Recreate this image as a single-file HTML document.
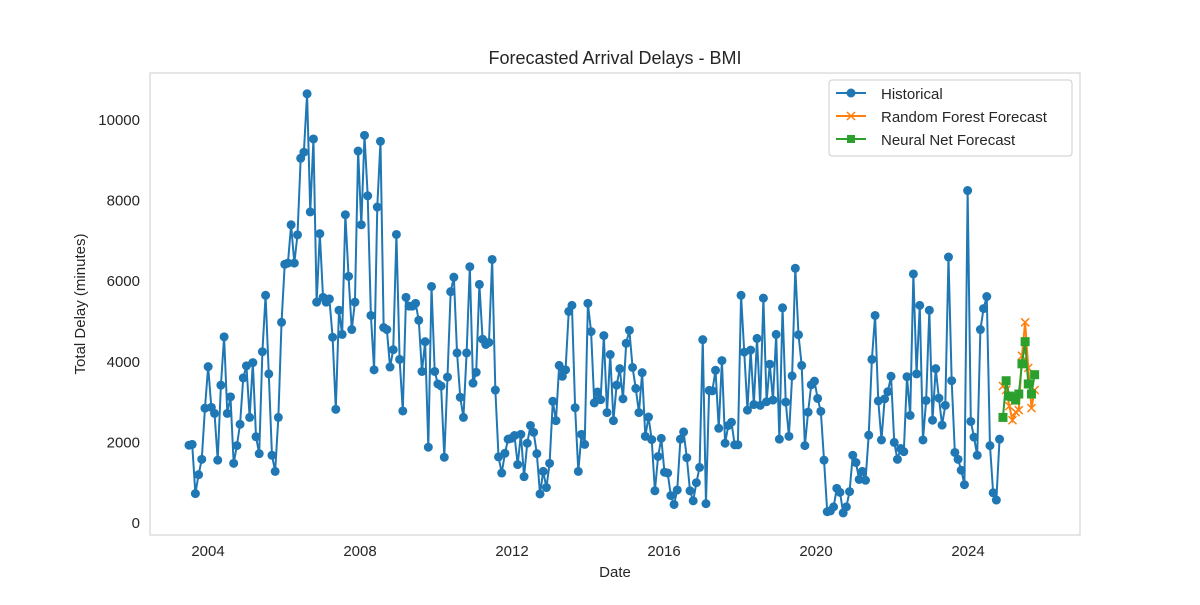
<!DOCTYPE html>
<html><head><meta charset="utf-8"><style>
body{margin:0;background:#fff;font-family:"Liberation Sans","DejaVu Sans",sans-serif;}
svg text{font-family:"Liberation Sans","DejaVu Sans",sans-serif;fill:#262626;}
</style></head><body>
<svg id="chart" width="1200" height="600">
<rect x="150" y="73" width="930" height="462" fill="#fff" stroke="#ccc"/>
<text x="615" y="64" font-size="18" text-anchor="middle">Forecasted Arrival Delays - BMI</text>
<text x="615" y="577" font-size="15" text-anchor="middle">Date</text>
<text transform="translate(85,304) rotate(-90)" font-size="15" text-anchor="middle">Total Delay (minutes)</text>
<g id="ticks"></g>
<g id="series"></g>
<g>
<rect x="829" y="80" width="243" height="76" rx="3" fill="#fff" stroke="#ccc"/>
<line x1="836" y1="93" x2="866" y2="93" stroke="#1f77b4" stroke-width="2"/><circle cx="851" cy="93" r="4.5" fill="#1f77b4"/>
<text x="881" y="99" font-size="15">Historical</text>
<line x1="836" y1="116" x2="866" y2="116" stroke="#ff7f0e" stroke-width="2"/><path d="M847,112 l8,8 M855,112 l-8,8" stroke="#ff7f0e" stroke-width="1.5"/>
<text x="881" y="122" font-size="15">Random Forest Forecast</text>
<line x1="836" y1="139" x2="866" y2="139" stroke="#2ca02c" stroke-width="2"/><rect x="847" y="135" width="8" height="8" fill="#2ca02c"/>
<text x="881" y="145" font-size="15">Neural Net Forecast</text>
</g>
</svg>
<script>
const historical = [1930,1950,730,1200,1580,2850,3880,2870,2720,1560,3420,4620,2720,3130,1480,1920,2450,3600,3900,2620,3980,2140,1720,4250,5650,3700,1680,1280,2620,4980,6420,6450,7400,6450,7150,9050,9200,10650,7720,9530,5480,7180,5600,5480,5560,4610,2820,5280,4680,7650,6120,4800,5480,9230,7400,9620,8120,5150,3800,7840,9470,4850,4800,3870,4300,7160,4060,2780,5600,5380,5380,5450,5030,3760,4500,1880,5870,3760,3450,3400,1630,3620,5740,6100,4220,3120,2620,4220,6360,3470,3740,5920,4560,4430,4480,6540,3300,1640,1240,1730,2080,2100,2170,1450,2200,1150,1980,2420,2250,1720,720,1280,880,1480,3020,2540,3910,3640,3800,5250,5400,2860,1280,2200,1950,5450,4750,2980,3250,3060,4650,2740,4180,2540,3420,3830,3080,4460,4780,3860,3340,2740,3730,2150,2630,2070,800,1650,2100,1260,1240,680,460,820,2080,2260,1620,800,550,1000,1380,4550,480,3290,3280,3790,2350,4030,1980,2420,2500,1940,1940,5650,4240,2800,4290,2940,4580,2920,5580,3010,3940,3050,4680,2080,5340,3000,2150,3650,6320,4670,3910,1920,2750,3430,3520,3090,2770,1560,280,300,400,860,760,250,400,780,1680,1500,1080,1280,1060,2180,4060,5150,3030,2060,3080,3260,3640,2000,1580,1850,1770,3630,2670,6180,3700,5400,2060,3040,5280,2550,3830,3100,2430,2920,6600,3530,1750,1580,1310,950,8250,2520,2130,1680,4800,5320,5620,1920,750,570,2080];
const histStart = 2003.5, histEnd = 2024.83;
const rfForecast = [3400,3300,2900,2550,2750,2800,4150,4980,3850,2850,3300];
const nnForecast = [2620,3530,3150,3130,3050,3200,3950,4500,3450,3200,3680];
const fcStart = 2024.92;
const xTicks = [2004,2008,2012,2016,2020,2024];
const yTicks = [0,2000,4000,6000,8000,10000];

const X = d => 208 + (d-2004)*38;
const Y = v => 523 - v*0.0403;
const NS='http://www.w3.org/2000/svg';
const tk=document.getElementById('ticks'), sg=document.getElementById('series');
function mk(tag,attrs,parent){const e=document.createElementNS(NS,tag);for(const k in attrs)e.setAttribute(k,attrs[k]);parent.appendChild(e);return e;}
xTicks.forEach(t=>{const e=mk('text',{x:X(t),y:556,'font-size':15,'text-anchor':'middle'},tk);e.textContent=t;

});
yTicks.forEach(t=>{const e=mk('text',{x:140,y:Y(t)+5,'font-size':15,'text-anchor':'end'},tk);e.textContent=t;

});
const step=(histEnd-histStart)/(historical.length-1);
const hp=historical.map((v,i)=>[X(histStart+i*step),Y(v)]);
const hl=mk('polyline',{points:hp.map(p=>p.join(',')).join(' '),fill:'none',stroke:'#1f77b4','stroke-width':2},sg);


hp.forEach(p=>{const c=mk('circle',{cx:p[0],cy:p[1],r:4.5,fill:'#1f77b4'},sg);

});
const rp=rfForecast.map((v,i)=>[X(fcStart+i/12),Y(v)]);
const rl=mk('polyline',{points:rp.map(p=>p.join(',')).join(' '),fill:'none',stroke:'#ff7f0e','stroke-width':2},sg);


rp.forEach(p=>{const m=mk('path',{d:`M${p[0]-4},${p[1]-4}l8,8M${p[0]+4},${p[1]-4}l-8,8`,stroke:'#ff7f0e','stroke-width':1.5},sg);

});
const np=nnForecast.map((v,i)=>[X(fcStart+i/12),Y(v)]);
const nl=mk('polyline',{points:np.map(p=>p.join(',')).join(' '),fill:'none',stroke:'#2ca02c','stroke-width':2},sg);


np.forEach(p=>{const r=mk('rect',{x:p[0]-4.5,y:p[1]-4.5,width:9,height:9,fill:'#2ca02c'},sg);

});
</script>
</body></html>
